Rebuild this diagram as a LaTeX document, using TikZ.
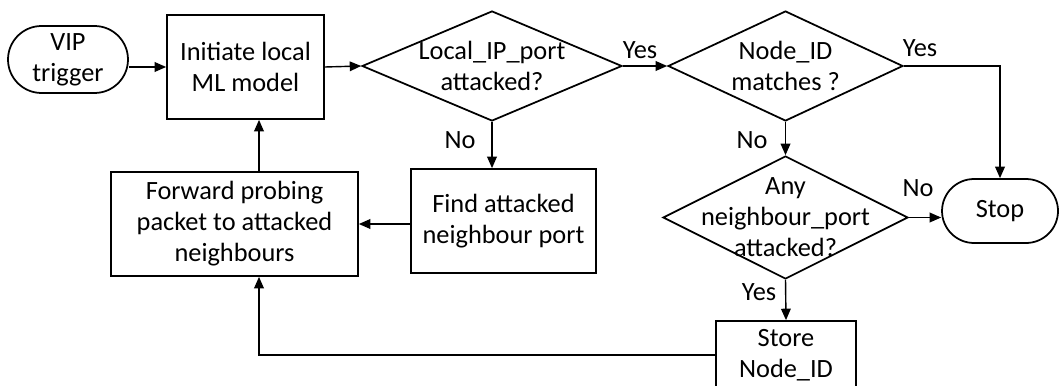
\documentclass[tikz,border=0pt]{standalone}
\usepackage{fontspec}
\setmainfont{Carlito}
\usetikzlibrary{shapes.geometric,shapes.misc,arrows.meta}

\tikzset{
  every node/.style={font=\fontsize{15}{17.6}\selectfont, inner sep=0pt},
  box/.style={draw, line width=1pt, rectangle, align=center},
  term/.style={draw, line width=1pt, rounded rectangle, align=center},
  decision/.style={draw, line width=1pt, diamond, inner sep=0pt},
  arr/.style={line width=0.8pt, -{Triangle[length=6.5pt,width=5.5pt]}},
  plain/.style={line width=0.8pt},
  tag/.style={align=center}
}

\begin{document}
\begin{tikzpicture}[x=0.02cm, y=-0.02cm]
\useasboundingbox (0,0) rectangle (1060,385);

% process and terminal shapes
\node[term, minimum width=2.4cm, minimum height=1.34cm] (vip) at (68,59.5) {VIP\\trigger};
\node[box, minimum width=3.14cm, minimum height=2.08cm] (init) at (245.5,67) {Initiate local\\ML model};
\node[decision, minimum width=5.2cm, minimum height=2.2cm,
      label={[tag]center:Local\_IP\_port\\attacked?}] (d1) at (492,66) {};
\node[decision, minimum width=4.7cm, minimum height=2.2cm,
      label={[tag]center:Node\_ID\\matches ?}] (d2) at (785.5,66) {};
\node[decision, minimum width=4.9cm, minimum height=2.46cm,
      label={[tag]center:Any\\neighbour\_port\\attacked?}] (d3) at (785.5,217.5) {};
\node[term, minimum width=2.32cm, minimum height=1.28cm] (stop) at (1000,211) {Stop};
\node[box, minimum width=3.7cm, minimum height=2.08cm] (find) at (503.5,221) {Find attacked\\neighbour port};
\node[box, minimum width=4.94cm, minimum height=2.08cm] (fwd) at (234.5,224) {Forward probing\\packet to attacked\\neighbours};
\node[box, minimum width=2.8cm, minimum height=1.36cm] (store) at (786,355) {Store\\Node\_ID};

% column used by the feedback loop
\coordinate (loopx) at (259,0);

% connectors
\draw[arr] (init.west -| vip.east) -- (init.west);
\draw[arr] (init.east) -- (d1.west);
\draw[arr] (d1.east) -- (d2.west);
\draw[arr] (d2.east) -| (stop.north);
\draw[arr] (d2.south) -- (d3.north);
\draw[arr] (d3.east) -- (d3.east -| stop.west);
\draw[arr] (d3.south) -- (store.north);
\draw[arr] (d1.south) -- (d1.south |- find.north);
\draw[arr] (fwd.east -| find.west) -- (fwd.east);
\draw[arr] (fwd.north -| loopx) -- (init.south -| loopx);
\draw[arr] (store.west) -| (fwd.south -| loopx);

% branch labels
\node[tag] (y1) at (640,50) {Yes};
\node[tag] (n1) at (460,140) {No};
\node[tag] (y2) at (920,48) {Yes};
\node[tag] (n2) at (752,140) {No};
\node[tag] (n3) at (918,188) {No};
\node[tag] (y3) at (759,292) {Yes};
\end{tikzpicture}
\end{document}
